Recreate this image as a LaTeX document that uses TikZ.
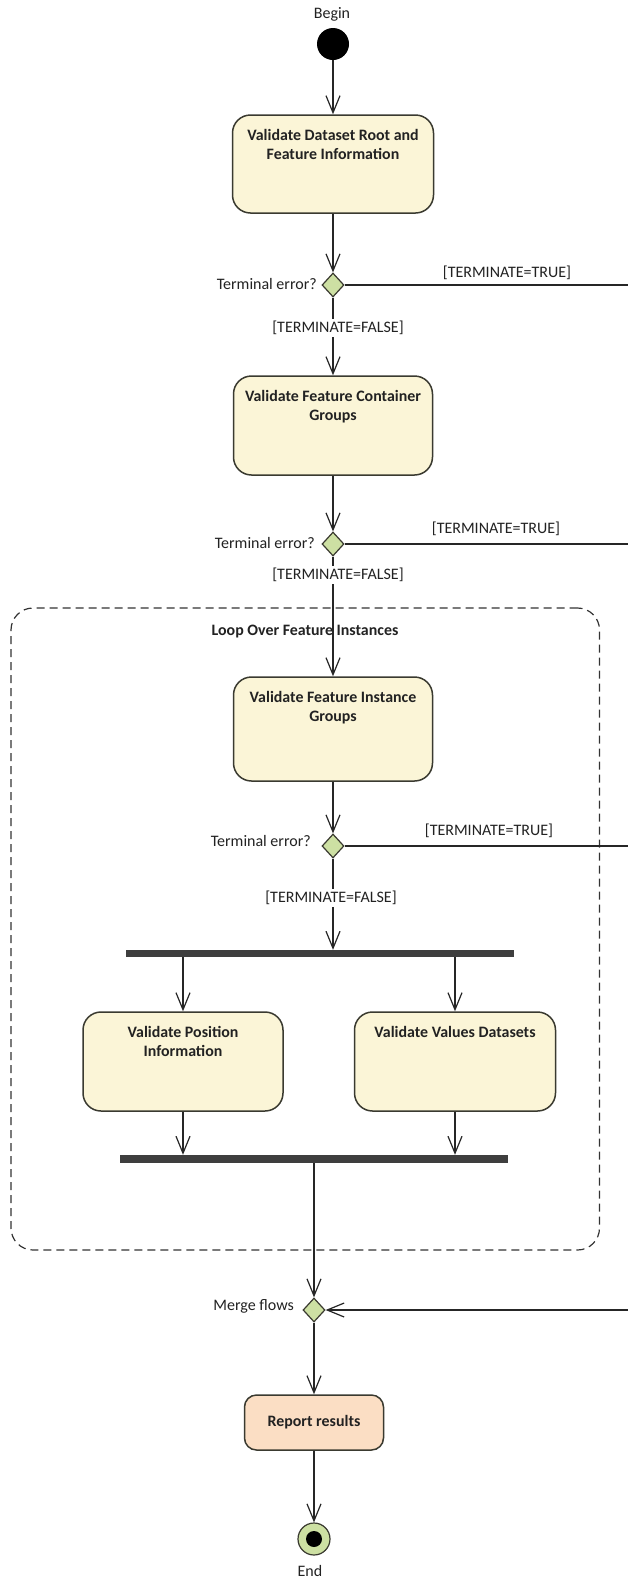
\documentclass[tikz,border=0pt]{standalone}
\usepackage{fontspec}
\setmainfont{Carlito}
\usetikzlibrary{shapes.geometric,arrows.meta,calc}
\definecolor{boxfill}{HTML}{FBF5D7}
\definecolor{peach}{HTML}{FBDEC4}
\definecolor{dgreen}{HTML}{CDE0A3}
\definecolor{edgec}{HTML}{3A3A30}
\definecolor{ink}{HTML}{222222}
\definecolor{barc}{HTML}{3E3E3E}
\newcommand\boxtxt[3]{\parbox[c][#2pt][t]{#1pt}{\centering\vspace*{14.5pt}#3}}
\tikzset{
  act/.style={draw=edgec, line width=1.5pt, fill=boxfill, rounded corners=18pt, inner sep=0pt,
              font=\bfseries\fontsize{15.9}{19}\selectfont, text=ink},
  dec/.style={diamond, draw=edgec, fill=dgreen, line width=1.2pt, minimum width=22pt,
              minimum height=24pt, inner sep=0pt},
  lbl/.style={font=\fontsize{16}{18}\selectfont, text=ink, inner sep=1pt},
  guard/.style={lbl, fill=white, inner sep=2pt},
  flow/.style={draw=black!85, line width=1.2pt, -{Straight Barb[length=17pt,width=14pt]}},
  plainline/.style={draw=black!85, line width=1.2pt},
  bar/.style={fill=barc, draw=none, minimum height=7pt, minimum width=388pt, inner sep=0pt},
}
\begin{document}
\begin{tikzpicture}[x=1pt,y=-1pt]
\useasboundingbox (0,0) rectangle (628,1583);
\fill[white] (0,0) rectangle (628,1583);

% loop region
\node[draw=black!80, line width=1.2pt, dash pattern=on 8pt off 5pt, rounded corners=22pt,
      minimum width=588.5pt, minimum height=642pt, inner sep=0pt] (loop) at (305.25,929) {};
\node[lbl, font=\bfseries\fontsize{15.9}{18}\selectfont] (looplbl) at (305,631.5) {Loop Over Feature Instances};

% nodes
\node[lbl] (begintxt) at (332,14) {Begin};
\node[circle, fill=black, minimum size=32pt, inner sep=0pt] (start) at (333,44) {};

\node[act, minimum width=201pt, minimum height=98pt] (b1) at (333,164)
  {\boxtxt{201}{98}{Validate Dataset Root and\\Feature Information}};
\node[dec] (d1) at (333,285) {};
\node[lbl, anchor=east] (te1) at (318,284) {Terminal error?};
\coordinate (r1) at (628,285);

\node[act, minimum width=199pt, minimum height=99pt] (b2) at (333,425.5)
  {\boxtxt{199}{99}{Validate Feature Container\\Groups}};
\node[dec] (d2) at (333,544) {};
\node[lbl, anchor=east] (te2) at (316,543) {Terminal error?};
\coordinate (r2) at (628,544);

\node[act, minimum width=199pt, minimum height=104pt] (b3) at (333,729)
  {\boxtxt{199}{104}{Validate Feature Instance\\Groups}};
\node[dec] (d3) at (333,846) {};
\node[lbl, anchor=east] (te3) at (312,841) {Terminal error?};
\coordinate (r3) at (628,846);

\node[bar] (fork) at (320,953.5) {};
\node[act, minimum width=200pt, minimum height=99pt] (b4) at (183,1061.5)
  {\boxtxt{200}{99}{Validate Position\\Information}};
\node[act, minimum width=201pt, minimum height=99pt] (b5) at (455,1061.5)
  {\boxtxt{201}{99}{Validate Values Datasets}};
\node[bar, minimum height=8pt] (join) at (314,1159) {};

\node[dec] (merge) at (314,1310) {};
\node[lbl, anchor=east] (mf) at (295,1306) {Merge flows};
\coordinate (r4) at (628,1310);

\node[act, fill=peach, rounded corners=12pt, minimum width=139pt, minimum height=55pt] (b6) at (314,1422.5)
  {Report results};
\node[circle, draw=edgec, line width=1.2pt, fill=dgreen, minimum size=32pt, inner sep=0pt] (endc) at (314,1539) {};
\node[circle, fill=black, minimum size=16pt, inner sep=0pt] (endin) at (314,1539) {};
\node[lbl] (endtxt) at (310,1571) {End};

% connectors
\draw[flow] (start) -- (b1);
\draw[flow] (b1) -- (d1);
\draw[plainline] (d1.east) -- (r1);
\draw[flow] (d1) -- (b2);
\draw[flow] (b2) -- (d2);
\draw[plainline] (d2.east) -- (r2);
\draw[flow] (d2) -- (b3);
\draw[flow] (b3) -- (d3);
\draw[plainline] (d3.east) -- (r3);
\draw[flow] (d3.south) -- (d3.south |- fork.north);
\draw[flow] (b4.north |- fork.south) -- (b4.north);
\draw[flow] (b5.north |- fork.south) -- (b5.north);
\draw[flow] (b4.south) -- (b4.south |- join.north);
\draw[flow] (b5.south) -- (b5.south |- join.north);
\draw[flow] (join.south -| merge.north) -- (merge.north);
\draw[flow] (r4) -- (merge.east);
\draw[flow] (merge) -- (b6);
\draw[flow] (b6) -- (endc);

% guard labels
\node[lbl] (tt1) at (507,273) {[TERMINATE=TRUE]};
\node[guard] (tf1) at (338,328) {[TERMINATE=FALSE]};
\node[lbl] (tt2) at (496,529) {[TERMINATE=TRUE]};
\node[guard] (tf2) at (338,575) {[TERMINATE=FALSE]};
\node[lbl] (tt3) at (489,831) {[TERMINATE=TRUE]};
\node[guard] (tf3) at (331,898) {[TERMINATE=FALSE]};
\end{tikzpicture}
\end{document}
